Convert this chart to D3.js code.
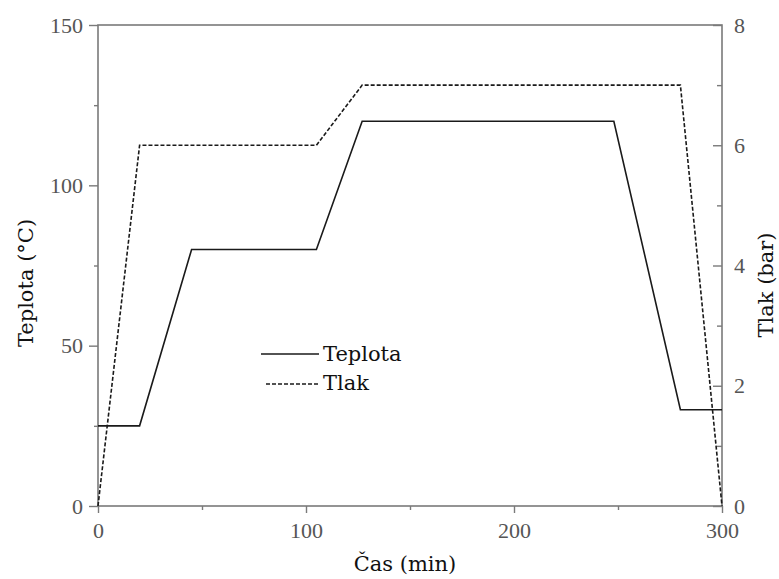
<!DOCTYPE html>
<html>
<head>
<meta charset="utf-8">
<script src="https://cdn.jsdelivr.net/npm/d3@7"></script>
<style>
  html, body { margin: 0; padding: 0; background: #fff; }
  svg { display: block; }
</style>
</head>
<body>
<svg id="chart" width="779" height="579"></svg>
<script>
// Time profile of the process (minutes)
const casTeplota = [0, 20, 45, 105, 127, 248, 280, 300];
const teplota    = [25, 25, 80, 80, 120, 120, 30, 30];
const casTlak    = [0, 20, 105, 127, 280, 300];
const tlak       = [0, 6, 6, 7, 7, 0];

const xTicks = [0, 100, 200, 300];
const yLeftTicks = [0, 50, 100, 150];
const yRightTicks = [0, 2, 4, 6, 8];
const legendLabels = ["Teplota", "Tlak"];

const svg = d3.select("#chart");
const plotLeft = 98, plotRight = 722, plotTop = 25, plotBottom = 506;

const x = d3.scaleLinear().domain([0, 300]).range([plotLeft, plotRight]);
const yL = d3.scaleLinear().domain([0, 150]).range([plotBottom, plotTop]);
const yR = d3.scaleLinear().domain([0, 8]).range([plotBottom, plotTop]);

const axisColor = "#7a7a7a";
const tickFont = "'Liberation Serif', 'Times New Roman', serif";
const titleFont = "'DejaVu Serif', 'Liberation Serif', serif";

// Frame
svg.append("rect")
  .attr("x", plotLeft).attr("y", plotTop)
  .attr("width", plotRight - plotLeft).attr("height", plotBottom - plotTop)
  .attr("fill", "none").attr("stroke", axisColor).attr("stroke-width", 1.6);

function styleAxis(g) {
  g.select(".domain").remove();
  g.selectAll(".tick line").attr("stroke", axisColor).attr("stroke-width", 1.4);
  g.selectAll(".tick text")
    .attr("fill", "#555")
    .style("font-family", tickFont)
    .style("font-size", "22px");
}
function styleMinor(g) {
  g.select(".domain").remove();
  g.selectAll("line").attr("stroke", axisColor).attr("stroke-width", 1.4);
}

// Bottom axis (outward ticks)
const gx = svg.append("g").attr("transform", `translate(0,${plotBottom})`)
  .call(d3.axisBottom(x).tickValues(xTicks).tickSize(7).tickPadding(9).tickFormat(d3.format("d")));
styleAxis(gx);
svg.append("g").attr("transform", `translate(0,${plotBottom})`)
  .call(d3.axisBottom(x).tickValues([50, 150, 250]).tickSize(4).tickFormat(""))
  .call(styleMinor);

// Left axis (outward ticks)
const gyl = svg.append("g").attr("transform", `translate(${plotLeft},0)`)
  .call(d3.axisLeft(yL).tickValues(yLeftTicks).tickSize(9).tickPadding(6).tickFormat(d3.format("d")));
styleAxis(gyl);
svg.append("g").attr("transform", `translate(${plotLeft},0)`)
  .call(d3.axisLeft(yL).tickValues([25, 75, 125]).tickSize(4).tickFormat(""))
  .call(styleMinor);

// Right axis (inward ticks, labels outside)
const gyr = svg.append("g").attr("transform", `translate(${plotRight},0)`)
  .call(d3.axisRight(yR).tickValues(yRightTicks).tickSize(-9).tickPadding(20).tickFormat(d3.format("d")));
styleAxis(gyr);
gyr.selectAll(".tick text").attr("x", 12);
svg.append("g").attr("transform", `translate(${plotRight},0)`)
  .call(d3.axisRight(yR).tickValues([1, 3, 5, 7]).tickSize(-5).tickFormat(""))
  .call(styleMinor);

// Series
const lineT = d3.line().x(d => x(d[0])).y(d => yL(d[1]));
const lineP = d3.line().x(d => x(d[0])).y(d => yR(d[1]));

svg.append("path")
  .datum(casTeplota.map((c, i) => [c, teplota[i]]))
  .attr("d", lineT)
  .attr("fill", "none").attr("stroke", "#1a1a1a").attr("stroke-width", 1.6);

svg.append("path")
  .datum(casTlak.map((c, i) => [c, tlak[i]]))
  .attr("d", lineP)
  .attr("fill", "none").attr("stroke", "#1a1a1a").attr("stroke-width", 1.6)
  .attr("stroke-dasharray", "4,2");

// Legend
const leg = svg.append("g");
leg.append("line").attr("x1", 261).attr("x2", 319).attr("y1", 354).attr("y2", 354)
  .attr("stroke", "#1a1a1a").attr("stroke-width", 1.6);
leg.append("line").attr("x1", 266).attr("x2", 319).attr("y1", 384).attr("y2", 384)
  .attr("stroke", "#1a1a1a").attr("stroke-width", 1.6).attr("stroke-dasharray", "4,2");
leg.selectAll("text").data(legendLabels).join("text")
  .attr("x", 323)
  .attr("y", (d, i) => i === 0 ? 361 : 390)
  .attr("fill", "#111")
  .style("font-family", titleFont)
  .style("font-size", "21px")
  .text(d => d);

// Axis titles
svg.append("text")
  .attr("transform", "translate(33,283) rotate(-90)")
  .attr("text-anchor", "middle")
  .attr("fill", "#111")
  .style("font-family", titleFont).style("font-size", "21px")
  .text("Teplota (°C)");

svg.append("text")
  .attr("transform", "translate(773,285) rotate(-90)")
  .attr("text-anchor", "middle")
  .attr("fill", "#111")
  .style("font-family", titleFont).style("font-size", "21px")
  .text("Tlak (bar)");

svg.append("text")
  .attr("x", 405).attr("y", 571)
  .attr("text-anchor", "middle")
  .attr("fill", "#111")
  .style("font-family", titleFont).style("font-size", "21px")
  .text("Čas (min)");
</script>
</body>
</html>
